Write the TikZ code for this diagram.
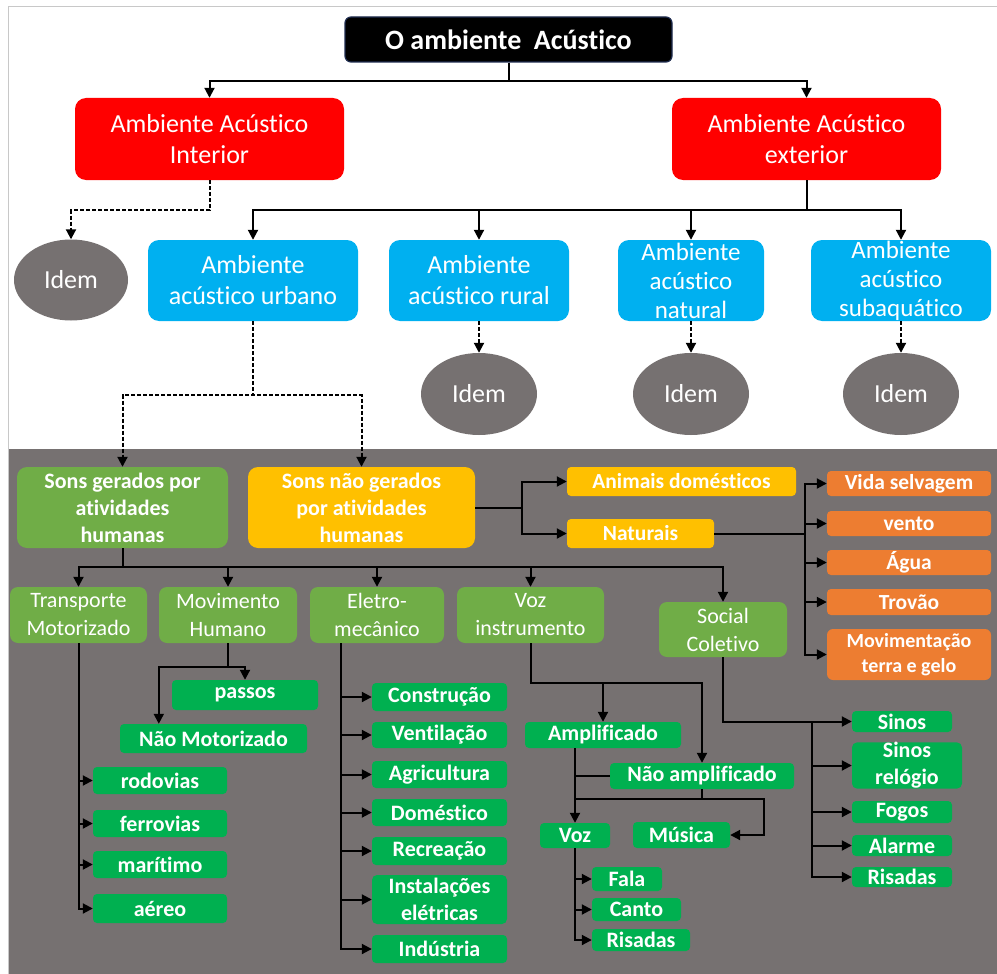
\documentclass[tikz,border=0pt]{standalone}
\usepackage{fontspec}
\setmainfont{Carlito}[Ligatures={CommonOff,ContextualOff,RareOff}]
\usetikzlibrary{arrows.meta,shapes.geometric}
\definecolor{cRed}{HTML}{FF0000}
\definecolor{cBlue}{HTML}{00B0F0}
\definecolor{cGreen}{HTML}{70AD47}
\definecolor{cLeaf}{HTML}{00B050}
\definecolor{cYel}{HTML}{FFC000}
\definecolor{cOra}{HTML}{ED7D31}
\definecolor{cGray}{HTML}{767171}
\definecolor{cEdge}{HTML}{1F2D50}
\definecolor{cFrame}{HTML}{C8C8C8}
\newcommand{\bx}[7]{\node[#6, minimum width={(#4-#2)*1pt}, minimum height={(#5-#3)*1pt}] (#1) at ({(#2+#4)/2},{(#3+#5)/2}) {#7};}
\begin{document}
\begin{tikzpicture}[x=1pt,y=-1pt,
 base/.style={inner sep=0pt, align=center, text=white},
 titlebox/.style={base, fill=black, draw=cEdge, line width=1.2pt, rounded corners=6pt, font=\fontsize{28}{32}\selectfont\bfseries},
 redbox/.style={base, fill=cRed, rounded corners=11pt, font=\fontsize{26}{31}\selectfont},
 bluebox/.style={base, fill=cBlue, rounded corners=11pt, font=\fontsize{26}{31}\selectfont},
 bluebox3/.style={base, fill=cBlue, rounded corners=11pt, font=\fontsize{25}{29}\selectfont},
 idem/.style={base, ellipse, fill=cGray, font=\fontsize{26}{31}\selectfont},
 sonsG/.style={base, fill=cGreen, rounded corners=10pt, font=\fontsize{22}{27}\selectfont\bfseries},
 sonsN/.style={base, fill=cYel, rounded corners=10pt, font=\fontsize{22}{27}\selectfont\bfseries},
 yelbox/.style={base, fill=cYel, rounded corners=4pt, font=\fontsize{21.5}{25}\selectfont\bfseries},
 orabox/.style={base, fill=cOra, rounded corners=4pt, font=\fontsize{21.5}{25}\selectfont\bfseries},
 orabox2/.style={base, fill=cOra, rounded corners=6pt, font=\fontsize{20}{25}\selectfont\bfseries},
 midbox/.style={base, fill=cGreen, rounded corners=8pt, font=\fontsize{22}{28}\selectfont},
 leaf/.style={base, fill=cLeaf, rounded corners=4pt, font=\fontsize{22}{26}\selectfont\bfseries},
 leaftwo/.style={base, fill=cLeaf, rounded corners=5pt, font=\fontsize{22}{27}\selectfont\bfseries},
 ln/.style={line width=2pt, black},
 arr/.style={ln, -{Triangle[length=10pt,width=10pt]}},
 darr/.style={arr, dash pattern=on 4pt off 2pt},
 dln/.style={ln, dash pattern=on 4pt off 2pt}
]
% background
\useasboundingbox (0,0) rectangle (997,974);
\fill[white] (0,0) rectangle (997,974);
\fill[cGray] (9,449) rectangle (997,974);
\draw[cFrame, line width=1pt] (8,974) -- (8,7) -- (997,7);

% upper part
\bx{title}{345}{17}{672}{62}{titlebox}{O ambiente\ \ Acústico}
\bx{redL}{75}{98}{344}{180}{redbox}{Ambiente Acústico\\Interior}
\bx{redR}{672}{98}{941}{180}{redbox}{Ambiente Acústico\\exterior}
\node[idem, minimum width=114pt, minimum height=81pt] (idemA) at (71,280) {Idem};
\bx{urb}{148}{240}{358}{321}{bluebox}{Ambiente\\acústico urbano}
\bx{rur}{389}{240}{569}{321}{bluebox}{Ambiente\\acústico rural}
\bx{natb}{618}{240}{764}{321}{bluebox3}{Ambiente\\acústico\\natural}
\bx{subb}{811}{240}{991}{321}{bluebox3}{Ambiente\\acústico\\subaquático}
\node[idem, minimum width=116pt, minimum height=82pt] (idemB) at (479,394) {Idem};
\node[idem, minimum width=116pt, minimum height=82pt] (idemC) at (691,394) {Idem};
\node[idem, minimum width=116pt, minimum height=82pt] (idemD) at (901,394) {Idem};

\draw[arr] (title.south) -- ++(0,18) -| (redL.north);
\draw[arr] (title.south) -- ++(0,18) -| (redR.north);
\draw[darr] (redL.south) -- ++(0,30) -| (idemA.north);
\foreach \t in {urb,rur,natb,subb}{
  \draw[arr] (redR.south) -- ++(0,30) -| (\t.north);
}
\draw[darr] (rur.south) -- (idemB.north);
\draw[darr] (natb.south) -- (idemC.north);
\draw[darr] (subb.south) -- (idemD.north);

% lower part
\bx{sg}{17}{467}{228}{548}{sonsG}{Sons gerados por\\atividades\\humanas}
\bx{sn}{248}{467}{475}{548}{sonsN}{Sons não gerados\\por atividades\\humanas}
\draw[darr] (urb.south) -- ++(0,74) -| (sg.north);
\draw[darr] (urb.south) -- ++(0,74) -| (sn.north);

\bx{anim}{567}{467}{796}{496}{yelbox}{Animais domésticos}
\bx{natu}{567}{519}{714}{548}{yelbox}{Naturais}
\draw[arr] (sn.east) -- ++(47,0) |- (anim.west);
\draw[arr] (sn.east) -- ++(47,0) |- (natu.west);

\bx{vida}{827}{471}{991}{496}{orabox}{Vida selvagem}
\bx{vento}{827}{511}{991}{536}{orabox}{vento}
\bx{agua}{827}{550}{991}{575}{orabox}{Água}
\bx{trov}{827}{589}{991}{615}{orabox}{Trovão}
\bx{movt}{827}{629}{991}{680}{orabox2}{Movimentação\\terra e gelo}
\foreach \t in {vida,vento,agua,trov,movt}{
  \draw[arr] (natu.east) -- ++(91,0) |- (\t.west);
}

\bx{tra}{10}{587}{147}{643}{midbox}{Transporte\\Motorizado}
\bx{mov}{159}{587}{297}{643}{midbox}{Movimento\\Humano}
\bx{ele}{310}{587}{444}{643}{midbox}{Eletro-\\mecânico}
\bx{vzi}{457}{587}{604}{643}{midbox}{Voz\\instrumento}
\bx{soc}{659}{602}{787}{657}{midbox}{Social\\Coletivo}
\foreach \t in {tra,mov,ele,vzi,soc}{
  \draw[arr] (sg.south) -- ++(0,19) -| (\t.north);
}

% transporte
\bx{rod}{93}{767}{227}{794}{leaf}{rodovias}
\bx{fer}{93}{810}{227}{837}{leaf}{ferrovias}
\bx{mar}{93}{851}{227}{878}{leaf}{marítimo}
\bx{aer}{93}{894}{227}{923}{leaf}{aéreo}
\foreach \t in {rod,fer,mar,aer}{
  \draw[arr] (tra.south) |- (\t.west);
}

% movimento humano
\bx{pas}{172}{680}{318}{710}{leaf}{passos}
\bx{nmo}{120}{724}{307}{753}{leaf}{Não Motorizado}
\draw[arr] (mov.south) -- ++(0,24) -| (pas.north);
\draw[arr] (mov.south) -- ++(0,24) -| ([xshift=39pt]nmo.north west);

% eletro-mecanico
\bx{con}{372}{683}{507}{711}{leaf}{Construção}
\bx{ven}{372}{722}{507}{748}{leaf}{Ventilação}
\bx{agr}{372}{761}{507}{788}{leaf}{Agricultura}
\bx{dom}{372}{799}{507}{826}{leaf}{Doméstico}
\bx{rec}{372}{837}{507}{865}{leaf}{Recreação}
\bx{ins}{372}{875}{507}{924}{leaftwo}{Instalações\\elétricas}
\bx{ind}{372}{935}{507}{963}{leaf}{Indústria}
\foreach \t in {con,ven,agr,dom,rec,ins,ind}{
  \draw[arr] ([xshift=31pt]ele.south west) |- (\t.west);
}

% voz instrumento
\bx{amp}{525}{722}{681}{748}{leaf}{Amplificado}
\bx{nam}{610}{763}{794}{789}{leaf}{Não amplificado}
\bx{voz}{540}{823}{610}{848}{leaf}{Voz}
\bx{mus}{633}{822}{730}{848}{leaf}{Música}
\bx{fal}{592}{867}{662}{891}{leaf}{Fala}
\bx{can}{592}{898}{681}{921}{leaf}{Canto}
\bx{riA}{592}{929}{690}{951}{leaf}{Risadas}
\draw[arr] (vzi.south) -- ++(0,40) -| (amp.north);
\draw[arr] (vzi.south) -- ++(0,40) -| (nam.north);
\draw[arr] (voz.north |- amp.south) -- (voz.north);
\draw[ln] (nam.west) -- (nam.west -| voz.north);
\draw[ln] (nam.south) -- ++(0,10) coordinate (na1) -- (na1 -| voz.north);
\draw[arr] (na1) -- ++(62,0) |- (mus.east);
\foreach \t in {fal,can,riA}{
  \draw[arr] (voz.south) |- (\t.west);
}

% social coletivo
\bx{sin}{852}{711}{952}{732}{leaf}{Sinos}
\bx{sre}{852}{743}{962}{788}{leaftwo}{Sinos\\relógio}
\bx{fog}{852}{801}{952}{823}{leaf}{Fogos}
\bx{ala}{852}{835}{952}{856}{leaf}{Alarme}
\bx{riB}{852}{867}{952}{887}{leaf}{Risadas}
\draw[arr] (soc.south) |- (sin.west);
\foreach \t in {sre,fog,ala,riB}{
  \draw[arr] ([xshift=-40pt]sin.west) |- (\t.west);
}
\end{tikzpicture}
\end{document}
